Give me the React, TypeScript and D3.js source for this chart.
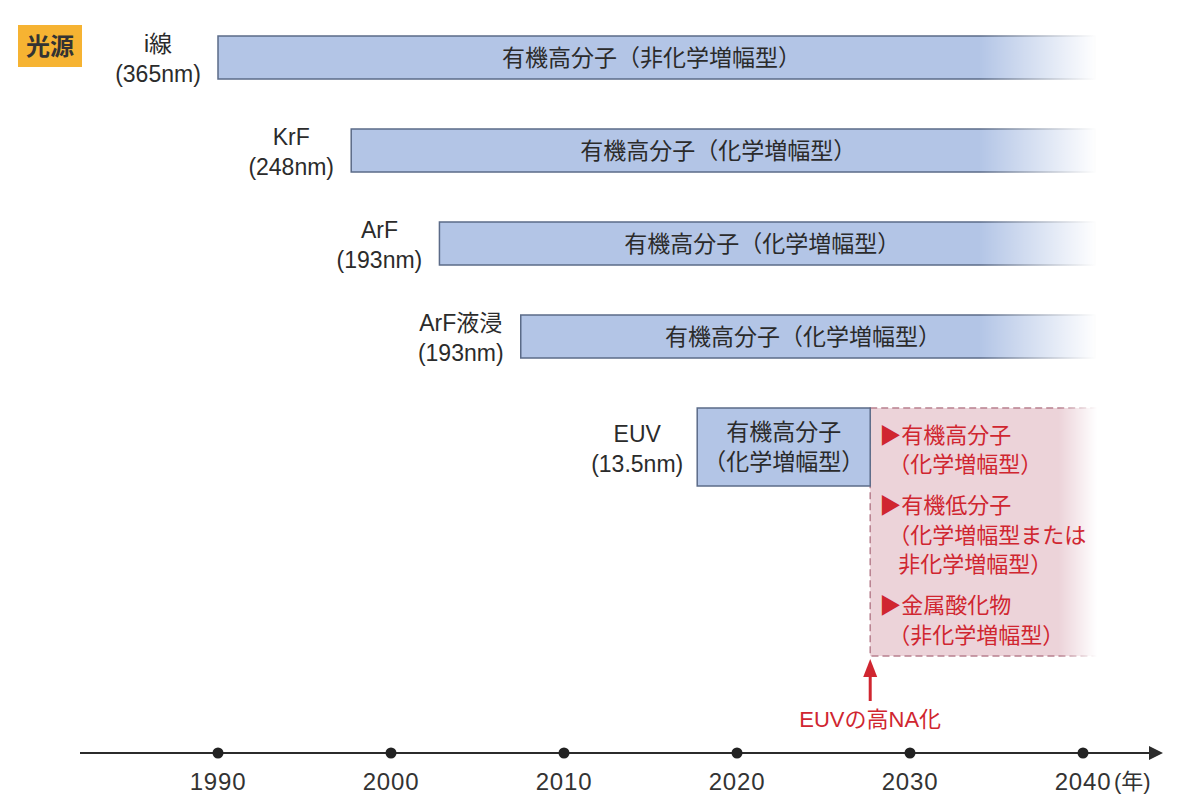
import React, { useEffect, useRef } from "react";
import * as d3 from "d3";

// light sources and the resist used with each
const sources = ["i線", "KrF", "ArF", "ArF液浸", "EUV"];
const wavelengths = ["(365nm)", "(248nm)", "(193nm)", "(193nm)", "(13.5nm)"];
const startYears = [1990, 1997.7, 2002.8, 2007.5, 2017.7];
const endYears = [2040.7, 2040.7, 2040.7, 2040.7, 2027.7];
const resistLabels = [
  ["有機高分子（非化学増幅型）"],
  ["有機高分子（化学増幅型）"],
  ["有機高分子（化学増幅型）"],
  ["有機高分子（化学増幅型）"],
  ["有機高分子", "（化学増幅型）"],
];
// high-NA EUV era
const highNaStart = 2027.7;
const highNaEnd = 2040.8;
const highNaLabel = "EUVの高NA化";
const futureResists = [
  ["▶有機高分子", "（化学増幅型）"],
  ["▶有機低分子", "（化学増幅型または", "非化学増幅型）"],
  ["▶金属酸化物", "（非化学増幅型）"],
];
const tickYears = [1990, 2000, 2010, 2020, 2030, 2040];

const W = 1180;
const H = 812;
const FONT = "'Liberation Sans', 'Noto Sans CJK JP', sans-serif";
const TEXT = "#2b2b2b";
const RED = "#d02630";

export default function App() {
  const ref = useRef<SVGSVGElement>(null);

  useEffect(() => {
    const svg = d3.select(ref.current);
    svg.selectAll("*").remove();

    const x = d3.scaleLinear().domain([1990, 2040]).range([218, 1083]);
    const row = d3.scaleLinear().domain([0, sources.length - 1]).range([36, 408]);
    const barH = (i: number) => (resistLabels[i].length > 1 ? 78 : 43);

    const defs = svg.append("defs");
    const fade = (id: string, from: number, to: number) => {
      const g = defs
        .append("linearGradient")
        .attr("id", id + "-g")
        .attr("gradientUnits", "userSpaceOnUse")
        .attr("x1", x(from))
        .attr("x2", x(to))
        .attr("y1", 0)
        .attr("y2", 0);
      g.append("stop").attr("offset", 0).attr("stop-color", "#fff");
      g.append("stop").attr("offset", 1).attr("stop-color", "#000");
      defs
        .append("mask")
        .attr("id", id)
        .attr("maskUnits", "userSpaceOnUse")
        .attr("x", 0)
        .attr("y", 0)
        .attr("width", W)
        .attr("height", H)
        .append("rect")
        .attr("width", W)
        .attr("height", H)
        .attr("fill", `url(#${id}-g)`);
    };
    fade("barFade", 2034, 2040.8);
    fade("boxFade", 2038.6, 2040.8);

    // 光源 badge
    svg
      .append("rect")
      .attr("x", 18)
      .attr("y", 25)
      .attr("width", 64)
      .attr("height", 42)
      .attr("fill", "#f6b332");
    svg
      .append("text")
      .attr("x", 50)
      .attr("y", 46)
      .attr("text-anchor", "middle")
      .attr("dominant-baseline", "central")
      .attr("font-family", FONT)
      .attr("font-weight", 700)
      .attr("font-size", 24)
      .attr("fill", "#333")
      .text("光源");

    // high-NA box (behind EUV bar)
    const eIdx = sources.length - 1;
    svg
      .append("rect")
      .attr("x", x(highNaStart))
      .attr("y", row(eIdx))
      .attr("width", x(highNaEnd) - x(highNaStart))
      .attr("height", 248)
      .attr("fill", "#ecd3d9")
      .attr("stroke", "#b8808f")
      .attr("stroke-width", 1.5)
      .attr("stroke-dasharray", "7,4")
      .attr("mask", "url(#boxFade)");

    // bars
    sources.forEach((s, i) => {
      const x0 = x(startYears[i]);
      const x1 = x(endYears[i]);
      const y0 = row(i);
      const h = barH(i);
      const g = svg.append("g");
      if (endYears[i] > 2040) g.attr("mask", "url(#barFade)");
      g.append("rect")
        .attr("x", x0)
        .attr("y", y0)
        .attr("width", x1 - x0)
        .attr("height", h)
        .attr("fill", "#b3c5e6")
        .attr("stroke", "#5b6b88")
        .attr("stroke-width", 1.5);

      const lines = resistLabels[i];
      const cx = (x0 + x1) / 2 + (endYears[i] > 2040 ? -5 : 0);
      lines.forEach((t, j) => {
        svg
          .append("text")
          .attr("x", cx)
          .attr("y", y0 + h / 2 + (j - (lines.length - 1) / 2) * 30)
          .attr("text-anchor", "middle")
          .attr("dominant-baseline", "central")
          .attr("font-family", FONT)
          .attr("font-size", 23)
          .attr("fill", TEXT)
          .text(t);
      });

      // source label
      const lx = x0 - 60;
      const ly = y0 + 22 + (h > 43 ? 18 : 0);
      svg
        .append("text")
        .attr("x", lx)
        .attr("y", ly - 14)
        .attr("text-anchor", "middle")
        .attr("dominant-baseline", "central")
        .attr("font-family", FONT)
        .attr("font-size", 23)
        .attr("fill", TEXT)
        .text(s);
      svg
        .append("text")
        .attr("x", lx)
        .attr("y", ly + 16)
        .attr("text-anchor", "middle")
        .attr("dominant-baseline", "central")
        .attr("font-family", FONT)
        .attr("font-size", 23)
        .attr("fill", TEXT)
        .text(wavelengths[i]);
    });

    // future resist list
    let ty = row(eIdx) + 27;
    futureResists.forEach((group) => {
      group.forEach((t, j) => {
        const tx = t.startsWith("▶") ? x(highNaStart) + 9 : t.startsWith("（") ? x(highNaStart) + 18 : x(highNaStart) + 28;
        svg
          .append("text")
          .attr("x", tx)
          .attr("y", ty)
          .attr("dominant-baseline", "central")
          .attr("font-family", FONT)
          .attr("font-size", 22)
          .attr("fill", RED)
          .text(t);
        ty += j < group.length - 1 ? 29.5 : 41;
      });
    });

    // axis
    const axisY = 753;
    svg
      .append("line")
      .attr("x1", 80)
      .attr("x2", 1152)
      .attr("y1", axisY)
      .attr("y2", axisY)
      .attr("stroke", "#2b2b2b")
      .attr("stroke-width", 2);
    svg
      .append("path")
      .attr("d", `M1163,${axisY} L1149,${axisY - 7} L1149,${axisY + 7} Z`)
      .attr("fill", "#2b2b2b");
    svg
      .append("g")
      .selectAll("circle")
      .data(tickYears)
      .join("circle")
      .attr("cx", (d) => x(d))
      .attr("cy", axisY)
      .attr("r", 5.5)
      .attr("fill", "#222");
    svg
      .append("g")
      .selectAll("text")
      .data(tickYears)
      .join("text")
      .attr("x", (d) => x(d))
      .attr("y", 790)
      .attr("text-anchor", "middle")
      .attr("font-family", FONT)
      .attr("font-size", 24)
      .attr("letter-spacing", 0.8)
      .attr("fill", "#333")
      .text((d) => String(d));
    svg
      .append("text")
      .attr("x", x(2040) + 31)
      .attr("y", 789)
      .attr("font-family", FONT)
      .attr("font-size", 22)
      .attr("fill", "#333")
      .text("(年)");

    // high-NA arrow
    const ax = x(highNaStart);
    svg
      .append("line")
      .attr("x1", ax)
      .attr("x2", ax)
      .attr("y1", 701)
      .attr("y2", 674)
      .attr("stroke", RED)
      .attr("stroke-width", 3);
    svg
      .append("path")
      .attr("d", `M${ax},659 L${ax - 7},677 L${ax + 7},677 Z`)
      .attr("fill", RED);
    svg
      .append("text")
      .attr("x", ax)
      .attr("y", 719)
      .attr("text-anchor", "middle")
      .attr("dominant-baseline", "central")
      .attr("font-family", FONT)
      .attr("font-size", 22)
      .attr("fill", RED)
      .text(highNaLabel);
  }, []);

  return (
    <svg
      ref={ref}
      width={W}
      height={H}
      viewBox={`0 0 ${W} ${H}`}
      style={{ position: "absolute", left: 0, top: 0, background: "#fff", display: "block" }}
    />
  );
}
